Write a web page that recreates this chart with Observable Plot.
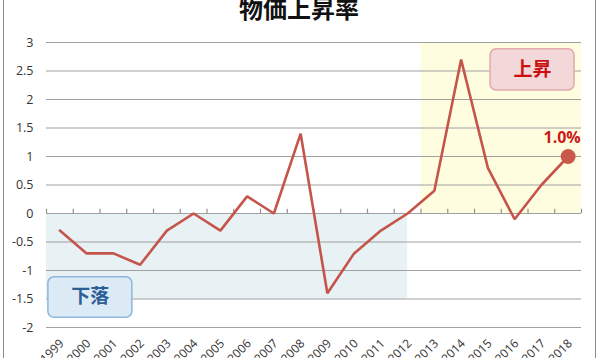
<!DOCTYPE html>
<html><head><meta charset="utf-8">
<script src="https://cdn.jsdelivr.net/npm/d3@7"></script>
<script src="https://cdn.jsdelivr.net/npm/@observablehq/plot@0.6"></script>
<style>
body{margin:0;background:#fff;}
#wrap{position:relative;width:600px;height:358px;overflow:hidden;background:#fff;}
#frame{position:absolute;left:3px;top:-10px;width:591px;height:378px;border:1px solid #8c8c8c;}
#title{position:absolute;left:0;width:598px;top:-10px;line-height:24px;text-align:center;font:bold 24px "Noto Sans CJK JP";color:#111;}
#chart{position:absolute;left:0;top:0;}
</style></head>
<body><div id="wrap"><div id="frame"></div><div id="title">物価上昇率</div><div id="chart"></div></div>
<script>
const years = ["1999","2000","2001","2002","2003","2004","2005","2006","2007","2008","2009","2010","2011","2012","2013","2014","2015","2016","2017","2018"];
const values = [-0.3,-0.7,-0.7,-0.9,-0.3,0,-0.3,0.3,0,1.4,-1.4,-0.7,-0.3,0,0.4,2.7,0.8,-0.1,0.5,1.0];
const yTicks = [-2,-1.5,-1,-0.5,0,0.5,1,1.5,2,2.5,3];
const riseYears = ["2013","2018"];   // shaded rise period
const fallYears = ["1999","2012"];   // shaded fall period
const riseLabel = "上昇";
const fallLabel = "下落";
const lastLabel = "1.0%";

const data = years.map((y,i)=>({year:y, i:i+0.5, v:values[i]}));
const idx = y => years.indexOf(y);
const last = data[data.length-1];

const chart = Plot.plot({
  width:600, height:358,
  marginLeft:46, marginRight:19, marginTop:42, marginBottom:31,
  style:{fontFamily:"'Open Sans', sans-serif", background:"transparent"},
  x:{domain:[0, years.length], axis:null},
  y:{domain:[-2,3], axis:null},
  marks:[
    Plot.rect([0],{x1:idx(riseYears[0]), x2:idx(riseYears[1])+1, y1:0, y2:3, fill:"#fffde0"}),
    Plot.rect([0],{x1:idx(fallYears[0]), x2:idx(fallYears[1])+0.5, y1:-1.5, y2:0, fill:"#e8f1f4"}),
    Plot.ruleY(yTicks,{stroke:"#a0a0a0", strokeWidth:1.2}),
    Plot.ruleX(d3.range(years.length+1),{x:d=>d, y1:0, y2:0.075, stroke:"#909090", strokeWidth:1.2}),
    Plot.text(yTicks,{x:0, y:d=>d, text:d=>String(d), textAnchor:"end", dx:-13, fontSize:12.5, fill:"#333"}),
    Plot.text(data,{x:"i", y:-2, text:"year", textAnchor:"end", rotate:-45, dx:2, dy:14, fontSize:12, fill:"#333"}),
    Plot.line(data,{x:"i", y:"v", stroke:"#c5554a", strokeWidth:2.6, strokeLinejoin:"miter"}),
    Plot.dot([last],{x:"i", y:"v", r:7.5, fill:"#c9594b", stroke:"none"}),
    Plot.text([last],{x:"i", y:"v", text:()=>lastLabel, dy:-19, dx:-6, fontSize:16, fontWeight:"bold", fill:"#cc1a1a"}),
    Plot.rect([0],{x1:16.6, x2:19.74, y1:2.16, y2:2.88, fill:"#f3d8da", stroke:"#e3a9ad", strokeWidth:1.5, rx:6}),
    Plot.text([riseLabel],{x:18.17, y:2.52, text:d=>d, fontSize:19, fontWeight:"bold", fill:"#cc1010", fontFamily:"Noto Sans CJK JP"}),
    Plot.rect([0],{x1:0.07, x2:3.21, y1:-1.83, y2:-1.12, fill:"#dbeaf5", stroke:"#8eb6e0", strokeWidth:1.5, rx:6}),
    Plot.text([fallLabel],{x:1.64, y:-1.47, text:d=>d, fontSize:19, fontWeight:"bold", fill:"#2d5e98", fontFamily:"Noto Sans CJK JP"})
  ]
});
document.getElementById("chart").appendChild(chart);
</script></body></html>
